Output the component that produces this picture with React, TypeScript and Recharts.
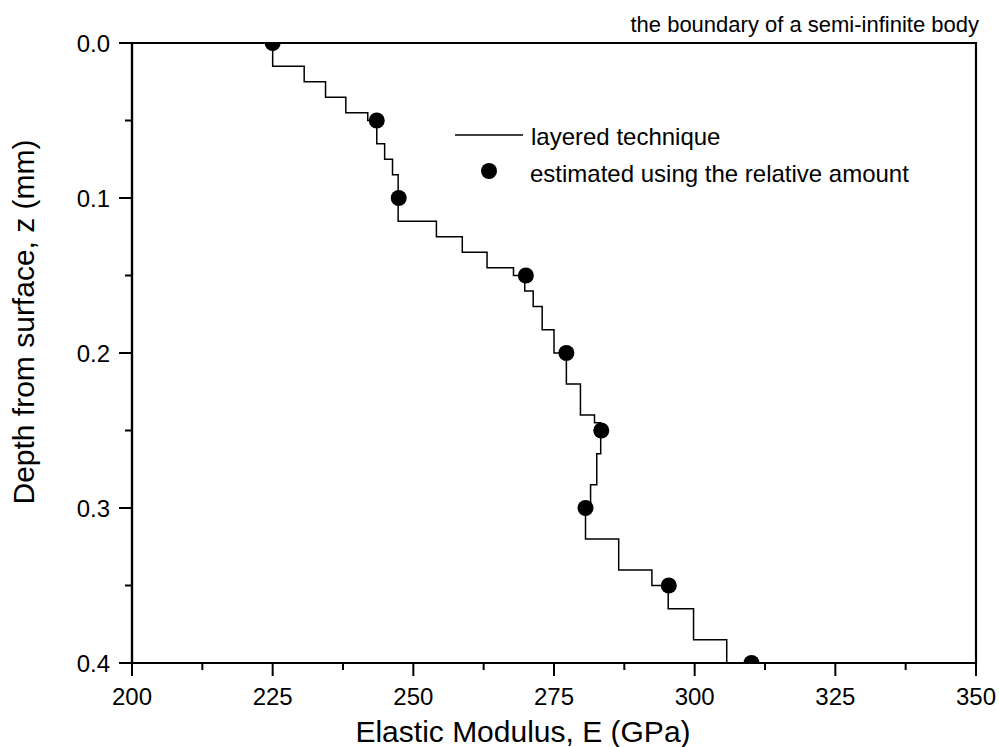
import React from "react";
import {
  ComposedChart,
  Line,
  Scatter,
  XAxis,
  YAxis,
  ReferenceArea,
} from "recharts";

// Layered-technique step profile: elastic modulus E (GPa) and the depth z (mm) at which it starts
const stepE = [
  225, 230.6, 234.4, 238.0, 241.9, 243.5, 244.9, 246.3, 247.3, 254.1, 258.7, 263.1, 267.8,
  269.8, 271.3, 272.9, 275.0, 277.2, 279.7, 282.2, 283.3, 282.6, 281.5, 280.6, 286.5, 292.4,
  295.3, 299.8, 305.7, 305.7,
];
const stepZ = [
  0, 0.015, 0.025, 0.035, 0.045, 0.05, 0.065, 0.075, 0.085, 0.115, 0.125, 0.135, 0.145, 0.15,
  0.16, 0.17, 0.185, 0.2, 0.22, 0.24, 0.245, 0.265, 0.285, 0.3, 0.32, 0.34, 0.35, 0.365, 0.385,
  0.4,
];

// Estimated using the relative amount
const pointE = [225, 243.5, 247.4, 270, 277.2, 283.4, 280.6, 295.4, 310.1];
const pointZ = [0, 0.05, 0.1, 0.15, 0.2, 0.25, 0.3, 0.35, 0.4];

// Axis ticks
const xMajorTicks = [200, 225, 250, 275, 300, 325, 350];
const xMinorTicks = [212.5, 237.5, 262.5, 287.5, 312.5, 337.5];
const yMajorTicks = [0, 0.1, 0.2, 0.3, 0.4];
const yMinorTicks = [0.05, 0.15, 0.25, 0.35];

const seriesNames = ["layered technique", "estimated using the relative amount"];
const xTitle = "Elastic Modulus, E (GPa)";
const yTitle = "Depth from surface, z (mm)";
const topNote = "the boundary of a semi-infinite body";

const stepData = stepE.map((E, i) => ({ E, z: stepZ[i] }));
const pointData = pointE.map((E, i) => ({ E, z: pointZ[i] }));

const FONT = "'Liberation Sans', Arial, Helvetica, sans-serif";

const isMajorX = (v: number) => xMajorTicks.some((t) => Math.abs(t - v) < 1e-6);
const isMajorY = (v: number) => yMajorTicks.some((t) => Math.abs(t - v) < 1e-6);

const XTick = (props: any) => {
  const { x, y, payload } = props;
  const major = isMajorX(payload.value);
  return (
    <g>
      <line x1={x} x2={x} y1={y} y2={y + (major ? 13 : 7)} stroke="#000" strokeWidth={2} />
      {major && (
        <text x={x} y={y + 42} textAnchor="middle" fontSize={24} fontFamily={FONT} fill="#000">
          {String(payload.value)}
        </text>
      )}
    </g>
  );
};

const YTick = (props: any) => {
  const { x, y, payload } = props;
  const major = isMajorY(payload.value);
  return (
    <g>
      <line x1={x} x2={x - (major ? 13 : 7)} y1={y} y2={y} stroke="#000" strokeWidth={2} />
      {major && (
        <text x={x - 22} y={y + 8.5} textAnchor="end" fontSize={24} fontFamily={FONT} fill="#000">
          {Number(payload.value).toFixed(1)}
        </text>
      )}
    </g>
  );
};

const Dot = (props: any) => {
  const { cx, cy } = props;
  return <circle cx={cx} cy={cy} r={8} fill="#000" />;
};

export default function App() {
  return (
    <div style={{ position: "absolute", left: 0, top: 0, width: 999, height: 747, background: "#fff" }}>
      <ComposedChart
        width={999}
        height={747}
        margin={{ top: 43, right: 23, bottom: 44, left: 72 }}
      >
        <XAxis
          type="number"
          dataKey="E"
          domain={[200, 350]}
          ticks={[...xMajorTicks, ...xMinorTicks].sort((a, b) => a - b)}
          interval={0}
          allowDataOverflow
          tickLine={false}
          tickSize={0}
          tickMargin={0}
          tick={<XTick />}
          axisLine={{ stroke: "#000", strokeWidth: 2.2 }}
          height={40}
        />
        <YAxis
          type="number"
          dataKey="z"
          domain={[0, 0.4]}
          reversed
          ticks={[...yMajorTicks, ...yMinorTicks].sort((a, b) => a - b)}
          interval={0}
          allowDataOverflow
          tickLine={false}
          tickSize={0}
          tickMargin={0}
          tick={<YTick />}
          axisLine={{ stroke: "#000", strokeWidth: 2.2 }}
          width={60}
        />
        <ReferenceArea
          x1={200}
          x2={350}
          y1={0}
          y2={0.4}
          fill="none"
          fillOpacity={0}
          stroke="#000"
          strokeWidth={2.2}
        />
        <Line
          data={stepData}
          dataKey="z"
          type="stepBefore"
          stroke="#000"
          strokeWidth={1.5}
          dot={false}
          activeDot={false}
          isAnimationActive={false}
          name={seriesNames[0]}
        />
        <Scatter
          data={pointData}
          dataKey="z"
          fill="#000"
          shape={<Dot />}
          isAnimationActive={false}
          name={seriesNames[1]}
        />
        <g>
          <line x1={455} x2={523} y1={135} y2={135} stroke="#000" strokeWidth={1.5} />
          <text x={531} y={145} fontSize={24} fontFamily={FONT} fill="#000">
            {seriesNames[0]}
          </text>
          <circle cx={489} cy={171} r={8} fill="#000" />
          <text x={530} y={182} fontSize={24} fontFamily={FONT} fill="#000">
            {seriesNames[1]}
          </text>
        </g>
        <text x={979} y={32} textAnchor="end" fontSize={22} fontFamily={FONT} fill="#000">
          {topNote}
        </text>
        <text x={523} y={742} textAnchor="middle" fontSize={30} fontFamily={FONT} fill="#000">
          {xTitle}
        </text>
        <text
          x={34}
          y={322}
          transform="rotate(-90 34 322)"
          textAnchor="middle"
          fontSize={30}
          fontFamily={FONT}
          fill="#000"
        >
          {yTitle}
        </text>
      </ComposedChart>
    </div>
  );
}
